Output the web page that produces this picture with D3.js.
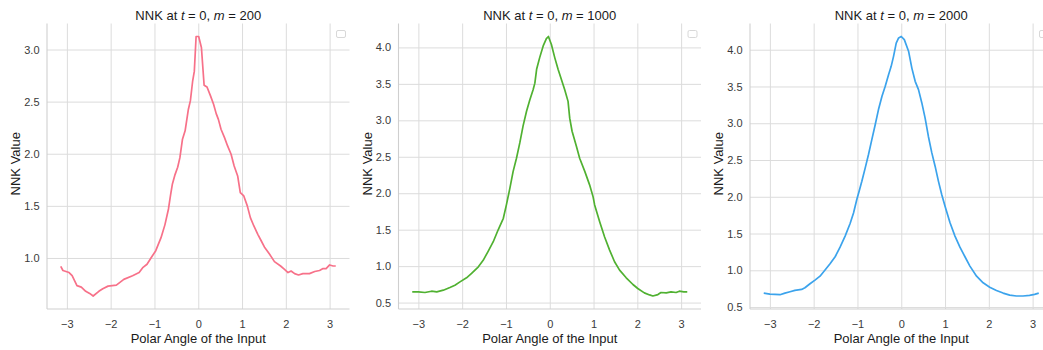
<!DOCTYPE html>
<meta charset="utf-8">
<head>
    <style>
        body { margin: 0; background: #fff; }
        text { font-family: "Liberation Sans", Arial, sans-serif; }
    </style>
</head>
<body>
    <div id="chart"></div>

    <script src="https://d3js.org/d3.v7.min.js"></script>
    <script>
        // values
        let angles200 = [-3.14, -3.09, -2.95, -2.88, -2.77, -2.67, -2.57, -2.48, -2.40, -2.27, -2.18, -2.06, -1.87, -1.70, -1.50, -1.35, -1.26, -1.17, -1.08, -0.97, -0.85, -0.76, -0.68, -0.63, -0.59, -0.53, -0.47, -0.42, -0.36, -0.30, -0.225, -0.18, -0.127, -0.09, -0.049, 0.01, 0.072, 0.134, 0.20, 0.28, 0.35, 0.41, 0.46, 0.52, 0.60, 0.67, 0.75, 0.82, 0.90, 0.96, 1.04, 1.12, 1.19, 1.27, 1.36, 1.44, 1.51, 1.63, 1.74, 1.88, 1.97, 2.05, 2.12, 2.20, 2.29, 2.39, 2.54, 2.66, 2.77, 2.85, 2.92, 3.00, 3.08, 3.14];
        let nnk200 = [0.92, 0.88, 0.86, 0.83, 0.735, 0.72, 0.68, 0.66, 0.635, 0.68, 0.705, 0.73, 0.74, 0.795, 0.83, 0.86, 0.91, 0.94, 1.0, 1.07, 1.195, 1.32, 1.47, 1.61, 1.71, 1.80, 1.87, 1.96, 2.14, 2.22, 2.427, 2.507, 2.70, 2.79, 3.125, 3.125, 3.02, 2.657, 2.64, 2.555, 2.475, 2.385, 2.33, 2.235, 2.155, 2.075, 1.995, 1.883, 1.787, 1.627, 1.595, 1.50, 1.387, 1.307, 1.227, 1.163, 1.106, 1.035, 0.965, 0.923, 0.89, 0.86, 0.875, 0.85, 0.837, 0.85, 0.85, 0.87, 0.88, 0.898, 0.898, 0.933, 0.923, 0.923];

        let angles1000 = [-3.14, -3.0, -2.85, -2.70, -2.58, -2.43, -2.28, -2.165, -2.05, -1.90, -1.785, -1.63, -1.52, -1.41, -1.29, -1.18, -1.06, -0.99, -0.91, -0.836, -0.76, -0.684, -0.61, -0.53, -0.456, -0.38, -0.34, -0.30, -0.23, -0.15, -0.077, -0.03, 0.038, 0.114, 0.19, 0.266, 0.342, 0.418, 0.456, 0.51, 0.61, 0.683, 0.80, 0.91, 0.99, 1.025, 1.14, 1.253, 1.367, 1.48, 1.595, 1.746, 1.90, 2.01, 2.16, 2.28, 2.354, 2.47, 2.54, 2.66, 2.77, 2.885, 2.96, 3.06, 3.14];
        let nnk1000 = [0.647, 0.647, 0.638, 0.656, 0.647, 0.67, 0.706, 0.738, 0.784, 0.84, 0.90, 0.99, 1.08, 1.20, 1.335, 1.495, 1.656, 1.84, 2.07, 2.30, 2.48, 2.69, 2.92, 3.124, 3.28, 3.42, 3.51, 3.70, 3.86, 4.02, 4.12, 4.15, 4.04, 3.86, 3.70, 3.56, 3.42, 3.26, 3.03, 2.85, 2.64, 2.48, 2.30, 2.115, 1.95, 1.84, 1.61, 1.40, 1.22, 1.06, 0.945, 0.84, 0.748, 0.693, 0.633, 0.605, 0.59, 0.61, 0.638, 0.633, 0.647, 0.638, 0.656, 0.647, 0.647];

        let angles2000 = [-3.14, -3.0, -2.885, -2.77, -2.656, -2.54, -2.43, -2.275, -2.2, -2.084, -1.97, -1.855, -1.74, -1.626, -1.51, -1.397, -1.282, -1.168, -1.09, -1.015, -0.962, -0.90, -0.824, -0.748, -0.672, -0.595, -0.52, -0.44, -0.366, -0.29, -0.23, -0.176, -0.115, -0.06, 0.0, 0.07, 0.167, 0.242, 0.318, 0.394, 0.47, 0.545, 0.62, 0.697, 0.773, 0.85, 0.924, 1.0, 1.114, 1.227, 1.34, 1.455, 1.568, 1.72, 1.87, 2.02, 2.174, 2.325, 2.477, 2.63, 2.78, 2.93, 3.045, 3.14];
        let nnk2000 = [0.69, 0.677, 0.672, 0.668, 0.69, 0.708, 0.726, 0.74, 0.763, 0.817, 0.867, 0.92, 1.003, 1.089, 1.184, 1.315, 1.465, 1.637, 1.78, 1.963, 2.076, 2.21, 2.39, 2.574, 2.778, 2.98, 3.186, 3.367, 3.503, 3.66, 3.774, 3.91, 4.09, 4.16, 4.18, 4.137, 3.98, 3.75, 3.57, 3.457, 3.276, 3.07, 2.82, 2.60, 2.416, 2.21, 2.03, 1.87, 1.646, 1.465, 1.315, 1.184, 1.057, 0.92, 0.83, 0.77, 0.726, 0.69, 0.663, 0.65, 0.65, 0.659, 0.672, 0.69];

        let mValues = [200, 1000, 2000];
        let lineColors = ['#f77189', '#50b131', '#3ba3ec'];
        let xTicks = [-3, -2, -1, 0, 1, 2, 3];
        let yTicks200 = [1.0, 1.5, 2.0, 2.5, 3.0];
        let yTicks1000 = [0.5, 1.0, 1.5, 2.0, 2.5, 3.0, 3.5, 4.0];
        let yTicks2000 = [0.5, 1.0, 1.5, 2.0, 2.5, 3.0, 3.5, 4.0];

        // layout
        let svgWidth = 1043, svgHeight = 350;
        let panelLefts = [47, 398.5, 750];
        let plotWidth = 302.5;
        let plotTop = 23.5, plotBottom = 309;
        let plotHeight = plotBottom - plotTop;
        let gridColor = '#dcdcdc';

        let panels = [
            {angles: angles200, values: nnk200, yTicks: yTicks200},
            {angles: angles1000, values: nnk1000, yTicks: yTicks1000},
            {angles: angles2000, values: nnk2000, yTicks: yTicks2000}
        ];

        let svg = d3.select('#chart')
                    .append('svg')
                    .attr('width', svgWidth)
                    .attr('height', svgHeight)
                    .style('display', 'block');

        svg.append('rect').attr('width', svgWidth).attr('height', svgHeight).attr('fill', '#fff');

        // matplotlib style 5% margins
        function padded(ext){
            let pad = (ext[1] - ext[0]) * 0.05;
            return [ext[0] - pad, ext[1] + pad];
        }

        panels.forEach((p, i) => {
            let points = p.angles.map((a, k) => ({angle: a, value: p.values[k]}));

            let x = d3.scaleLinear()
                      .domain(padded(d3.extent(p.angles)))
                      .range([0, plotWidth]);
            let y = d3.scaleLinear()
                      .domain(padded(d3.extent(p.values)))
                      .range([plotHeight, 0]);

            let g = svg.append('g')
                       .attr('transform', `translate(${panelLefts[i]}, ${plotTop})`);

            // grid
            g.append('g')
             .call(d3.axisBottom(x).tickValues(xTicks).tickSize(plotHeight).tickFormat(''))
             .call(a => a.select('.domain').remove())
             .selectAll('line').attr('stroke', gridColor).attr('stroke-width', 1);
            g.append('g')
             .call(d3.axisLeft(y).tickValues(p.yTicks).tickSize(-plotWidth).tickFormat(''))
             .call(a => a.select('.domain').remove())
             .selectAll('line').attr('stroke', gridColor).attr('stroke-width', 1);

            // spines (left + bottom only)
            g.append('line').attr('x1', 0).attr('x2', 0).attr('y1', 0).attr('y2', plotHeight)
             .attr('stroke', '#cfcfcf').attr('stroke-width', 1.1);
            g.append('line').attr('x1', 0).attr('x2', plotWidth).attr('y1', plotHeight).attr('y2', plotHeight)
             .attr('stroke', '#cfcfcf').attr('stroke-width', 1.1);

            // tick labels
            let xAxis = g.append('g')
                         .attr('transform', `translate(0, ${plotHeight})`)
                         .call(d3.axisBottom(x).tickValues(xTicks).tickSize(0).tickPadding(11).tickFormat(d3.format('d')));
            let yAxis = g.append('g')
                         .call(d3.axisLeft(y).tickValues(p.yTicks).tickSize(0).tickPadding(7.5).tickFormat(d3.format('.1f')));
            [xAxis, yAxis].forEach(a => {
                a.select('.domain').remove();
                a.selectAll('text')
                 .attr('font-size', 11)
                 .attr('fill', '#3a3a3a')
                 .style('font-family', '"Liberation Sans", Arial, sans-serif');
            });

            // curve
            let line = d3.line()
                         .x(d => x(d.angle))
                         .y(d => y(d.value));
            g.append('path')
             .datum(points)
             .attr('fill', 'none')
             .attr('stroke', lineColors[i])
             .attr('stroke-width', 1.7)
             .attr('stroke-linejoin', 'round')
             .attr('d', line);

            // empty legend box
            g.append('rect')
             .attr('x', plotWidth - 13).attr('y', 7)
             .attr('width', 9).attr('height', 7)
             .attr('rx', 1.5)
             .attr('fill', '#fff')
             .attr('stroke', '#d8d8d8')
             .attr('stroke-width', 1);

            // title
            let title = g.append('text')
                         .attr('x', plotWidth / 2)
                         .attr('y', -4)
                         .attr('text-anchor', 'middle')
                         .attr('font-size', 13)
                         .attr('fill', '#1a1a1a');
            title.append('tspan').text('NNK at ');
            title.append('tspan').attr('font-style', 'italic').text('t');
            title.append('tspan').text(' = 0, ');
            title.append('tspan').attr('font-style', 'italic').text('m');
            title.append('tspan').text(' = ' + mValues[i]);

            // axis labels
            g.append('text')
             .attr('x', plotWidth / 2)
             .attr('y', plotHeight + 33.5)
             .attr('text-anchor', 'middle')
             .attr('font-size', 13)
             .attr('fill', '#1a1a1a')
             .text('Polar Angle of the Input');

            g.append('text')
             .attr('transform', `translate(-27, ${plotHeight / 2 - 2.5}) rotate(-90)`)
             .attr('text-anchor', 'middle')
             .attr('font-size', 13)
             .attr('fill', '#1a1a1a')
             .text('NNK Value');
        });
    </script>
</body>
